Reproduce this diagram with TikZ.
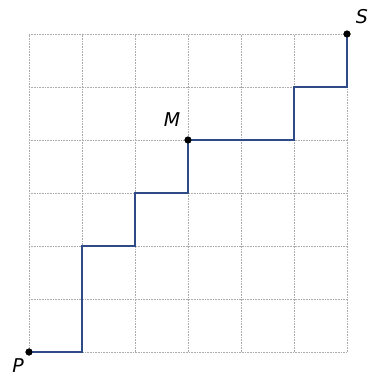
\documentclass[tikz,border=0pt]{standalone}
\usepackage{fontspec}
\setmainfont{DejaVu Sans}
\begin{document}
\begin{tikzpicture}[x=1pt,y=1pt,
  gridline/.style={gray!65,densely dotted,line width=0.6pt},
  pathline/.style={color={rgb,255:red,46;green,74;blue,135},line width=2.4pt},
  dot/.style={circle,fill=black,inner sep=0pt,minimum size=7pt},
  lab/.style={font=\fontsize{19}{21}\selectfont\itshape,inner sep=0pt}]
\useasboundingbox (-29,-24) rectangle (345,352);
\foreach \i in {0,...,6} {
  \draw[gridline] (\i*53,0) -- (\i*53,318);
  \draw[gridline] (0,\i*53) -- (318,\i*53);
}
\coordinate (c1) at (53,0);
\coordinate (c2) at (53,106);
\coordinate (c3) at (106,106);
\coordinate (c4) at (106,159);
\coordinate (c5) at (159,159);
\coordinate (c7) at (265,212);
\coordinate (c8) at (265,265);
\coordinate (c9) at (318,265);
\node[dot] (P) at (0,0) {};
\node[dot] (M) at (159,212) {};
\node[dot] (S) at (318,318) {};
\draw[pathline,line join=miter] (P.center) -- (c1) -- (c2) -- (c3) -- (c4) -- (c5) -- (M.center) -- (c7) -- (c8) -- (c9) -- (S.center);
\node[dot] at (P) {};
\node[dot] at (M) {};
\node[dot] at (S) {};
\node[lab] (Plab) at (-11,-14) {P};
\node[lab] (Mlab) at (143,232) {M};
\node[lab] (Slab) at (333,335) {S};
\end{tikzpicture}
\end{document}
